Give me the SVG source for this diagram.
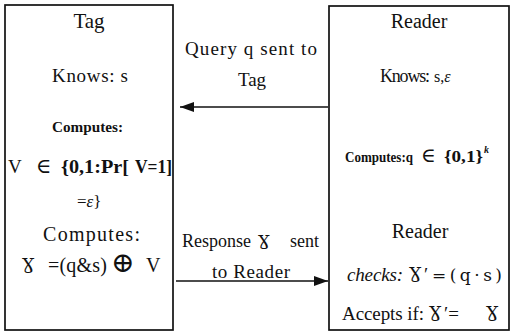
<svg xmlns="http://www.w3.org/2000/svg" width="511" height="334" viewBox="0 0 511 334">
<style>
  .box{fill:#fff;stroke:#111;stroke-width:1.7}
  .t{font-family:"Liberation Serif","Times New Roman",serif;fill:#111}
  .b{font-family:"Liberation Serif","Times New Roman",serif;font-weight:bold;fill:#111}
  .g{font-family:"DejaVu Serif",serif;fill:#111}
  .c{stroke:#111;stroke-width:1.7;fill:none}
</style>
<defs>
  <marker id="ah" viewBox="0 0 14 10" refX="14" refY="5" markerWidth="14" markerHeight="10" markerUnits="userSpaceOnUse" orient="auto">
    <path d="M0,0 L14,5 L0,10 Z" fill="#111"/>
  </marker>
</defs>
<rect width="511" height="334" fill="#fff"/>
<g id="tag">
  <rect class="box" x="5" y="5" width="168" height="325"/>
  <text class="t" x="89" y="28" font-size="21" text-anchor="middle">Tag</text>
  <text class="t" x="52" y="82" font-size="19" textLength="76">Knows:  s</text>
  <text class="b" x="52" y="132" font-size="15" textLength="71" lengthAdjust="spacingAndGlyphs">Computes:</text>
  <text x="8" y="173"><tspan class="t" font-size="19">V</tspan><tspan class="g" x="36" font-size="21">∈</tspan><tspan class="t" x="61" font-size="18" font-weight="600" textLength="68" lengthAdjust="spacingAndGlyphs">{0,1:Pr[</tspan><tspan class="t" x="135" font-size="18" font-weight="600" textLength="37" lengthAdjust="spacingAndGlyphs">V=1]</tspan></text>
  <text class="t" x="77" y="207" font-size="17">=<tspan font-style="italic">ε</tspan>}</text>
  <text class="t" x="43" y="241" font-size="20" textLength="97">Computes:</text>
  <text x="22" y="272" font-size="20"><tspan class="g" font-size="18">Ɣ</tspan><tspan class="t" x="48" textLength="59">=(q&amp;s)</tspan><tspan class="g" x="111" font-size="28">⊕</tspan><tspan class="t" x="146">V</tspan></text>
</g>
<g id="reader">
  <rect class="box" x="329" y="6" width="180" height="324"/>
  <text class="t" x="419" y="28" font-size="20" text-anchor="middle">Reader</text>
  <text class="t" x="380" y="82" font-size="18" textLength="50">Knows:</text>
  <text class="t" x="434" y="82" font-size="16">s,<tspan font-style="italic">ε</tspan></text>
  <text x="345" y="162"><tspan class="b" font-size="14" textLength="68" lengthAdjust="spacingAndGlyphs">Computes:q</tspan></text>
  <text x="421" y="162"><tspan class="g" font-size="20">∈</tspan><tspan class="b" x="444" font-size="16" textLength="39" lengthAdjust="spacingAndGlyphs">{0,1}</tspan><tspan class="t" x="484" y="153" font-size="10" font-style="italic" font-weight="bold">k</tspan></text>
  <text class="t" x="420" y="238" font-size="20" text-anchor="middle">Reader</text>
  <text x="347" y="281" font-size="19"><tspan class="t" font-style="italic" textLength="56">checks:</tspan><tspan class="g" x="409" font-size="18">Ɣ</tspan><tspan class="t" x="424">′</tspan><tspan class="g" x="432" font-size="17" textLength="70">=(q·s)</tspan></text>
  <text x="342" y="320" font-size="19"><tspan class="t" textLength="82">Accepts if:</tspan><tspan class="g" x="429" font-size="18">Ɣ</tspan><tspan class="t" x="444">′=</tspan><tspan class="g" x="486" font-size="18">Ɣ</tspan></text>
</g>
<g id="connectors">
  <line class="c" x1="328" y1="107" x2="180" y2="107" marker-end="url(#ah)"/>
  <line class="c" x1="176" y1="281" x2="328" y2="281" marker-end="url(#ah)"/>
  <text class="t" x="185" y="55" font-size="19" textLength="132">Query q sent to</text>
  <text class="t" x="252" y="86" font-size="19" text-anchor="middle">Tag</text>
  <text x="182" y="247" font-size="18"><tspan class="t">Response</tspan><tspan class="g" x="258" font-size="17">Ɣ</tspan><tspan class="t" x="290">sent</tspan></text>
  <text class="t" x="212" y="278" font-size="19" textLength="78">to Reader</text>
</g>
</svg>
